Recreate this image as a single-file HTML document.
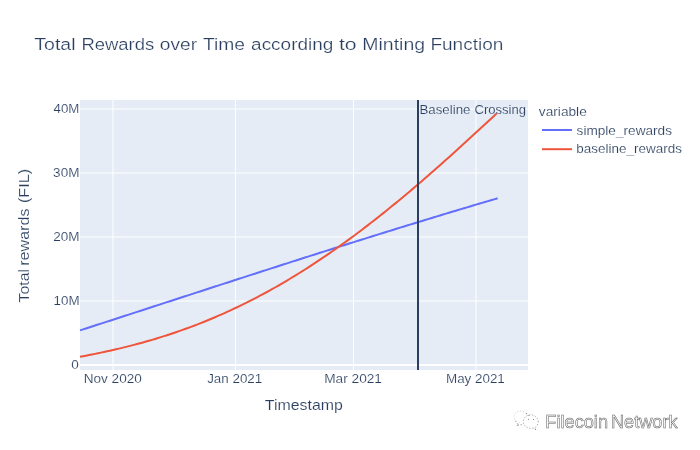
<!DOCTYPE html>
<html><head><meta charset="utf-8">
<style>
html,body{margin:0;padding:0;background:#fff;width:700px;height:450px;overflow:hidden}
svg{display:block;will-change:transform;font-family:"Liberation Sans",sans-serif}
text{fill:#2a3f5f;stroke:#fff;stroke-width:0.15px}
#ann1,#ann2{stroke:#e5ecf6}

#t1,#t2,#t3,#t4,#t5,#t6,#t7,#t8{stroke:#fff;stroke-width:0.22px}
</style></head><body>
<svg width="700" height="450" viewBox="0 0 700 450">
<rect x="0" y="0" width="700" height="450" fill="#fff"/>
<rect x="80" y="100" width="448" height="270" fill="#e5ecf6"/>
<g stroke="#fff" stroke-width="1">
<line x1="113" y1="100" x2="113" y2="370"/>
<line x1="235.45" y1="100" x2="235.45" y2="370"/>
<line x1="353.5" y1="100" x2="353.5" y2="370"/>
<line x1="476" y1="100" x2="476" y2="370"/>
<line x1="80" y1="109" x2="528" y2="109"/>
<line x1="80" y1="173" x2="528" y2="173"/>
<line x1="80" y1="237" x2="528" y2="237"/>
<line x1="80" y1="301" x2="528" y2="301"/>
</g>
<line x1="80" y1="365" x2="528" y2="365" stroke="#fff" stroke-width="2"/>
<path d="M80.0,330.39 L83.0,329.42 L86.0,328.45 L89.0,327.48 L92.0,326.51 L95.0,325.54 L98.0,324.57 L101.0,323.60 L104.0,322.62 L107.0,321.65 L110.0,320.68 L113.0,319.71 L116.0,318.73 L119.0,317.76 L122.0,316.79 L125.0,315.81 L128.0,314.84 L131.0,313.86 L134.0,312.89 L137.0,311.92 L140.0,310.94 L143.0,309.97 L146.0,308.99 L149.0,308.02 L152.0,307.04 L155.0,306.07 L158.0,305.09 L161.0,304.12 L164.0,303.14 L167.0,302.16 L170.0,301.19 L173.0,300.21 L176.0,299.24 L179.0,298.26 L182.0,297.29 L185.0,296.31 L188.0,295.34 L191.0,294.36 L194.0,293.39 L197.0,292.41 L200.0,291.44 L203.0,290.47 L206.0,289.49 L209.0,288.52 L212.0,287.55 L215.0,286.57 L218.0,285.60 L221.0,284.63 L224.0,283.65 L227.0,282.68 L230.0,281.71 L233.0,280.74 L236.0,279.77 L239.0,278.80 L242.0,277.83 L245.0,276.86 L248.0,275.89 L251.0,274.92 L254.0,273.95 L257.0,272.98 L260.0,272.01 L263.0,271.05 L266.0,270.08 L269.0,269.12 L272.0,268.15 L275.0,267.18 L278.0,266.22 L281.0,265.26 L284.0,264.29 L287.0,263.33 L290.0,262.37 L293.0,261.41 L296.0,260.45 L299.0,259.49 L302.0,258.53 L305.0,257.57 L308.0,256.61 L311.0,255.66 L314.0,254.70 L317.0,253.75 L320.0,252.79 L323.0,251.84 L326.0,250.88 L329.0,249.93 L332.0,248.98 L335.0,248.03 L338.0,247.08 L341.0,246.13 L344.0,245.19 L347.0,244.24 L350.0,243.29 L353.0,242.35 L356.0,241.41 L359.0,240.46 L362.0,239.52 L365.0,238.58 L368.0,237.64 L371.0,236.70 L374.0,235.77 L377.0,234.83 L380.0,233.89 L383.0,232.96 L386.0,232.03 L389.0,231.10 L392.0,230.17 L395.0,229.24 L398.0,228.31 L401.0,227.38 L404.0,226.46 L407.0,225.53 L410.0,224.61 L413.0,223.69 L416.0,222.77 L419.0,221.85 L422.0,220.93 L425.0,220.01 L428.0,219.10 L431.0,218.19 L434.0,217.27 L437.0,216.36 L440.0,215.45 L443.0,214.55 L446.0,213.64 L449.0,212.73 L452.0,211.83 L455.0,210.93 L458.0,210.03 L461.0,209.13 L464.0,208.23 L467.0,207.34 L470.0,206.44 L473.0,205.55 L476.0,204.66 L479.0,203.77 L482.0,202.88 L485.0,202.00 L488.0,201.11 L491.0,200.23 L494.0,199.35 L497.0,198.47 L497.6,198.29" fill="none" stroke="#636efa" stroke-width="2" stroke-linejoin="round"/>
<path d="M80.0,356.79 L83.0,356.22 L86.0,355.65 L89.0,355.07 L92.0,354.48 L95.0,353.88 L98.0,353.26 L101.0,352.63 L104.0,351.99 L107.0,351.34 L110.0,350.67 L113.0,350.00 L116.0,349.30 L119.0,348.60 L122.0,347.88 L125.0,347.14 L128.0,346.39 L131.0,345.63 L134.0,344.85 L137.0,344.05 L140.0,343.24 L143.0,342.42 L146.0,341.57 L149.0,340.72 L152.0,339.84 L155.0,338.95 L158.0,338.04 L161.0,337.11 L164.0,336.16 L167.0,335.20 L170.0,334.22 L173.0,333.22 L176.0,332.20 L179.0,331.17 L182.0,330.11 L185.0,329.04 L188.0,327.95 L191.0,326.84 L194.0,325.71 L197.0,324.56 L200.0,323.39 L203.0,322.20 L206.0,320.99 L209.0,319.76 L212.0,318.51 L215.0,317.24 L218.0,315.95 L221.0,314.64 L224.0,313.31 L227.0,311.96 L230.0,310.59 L233.0,309.19 L236.0,307.78 L239.0,306.35 L242.0,304.89 L245.0,303.42 L248.0,301.92 L251.0,300.40 L254.0,298.86 L257.0,297.30 L260.0,295.72 L263.0,294.12 L266.0,292.50 L269.0,290.85 L272.0,289.19 L275.0,287.50 L278.0,285.79 L281.0,284.06 L284.0,282.31 L287.0,280.54 L290.0,278.75 L293.0,276.94 L296.0,275.11 L299.0,273.25 L302.0,271.38 L305.0,269.48 L308.0,267.57 L311.0,265.63 L314.0,263.68 L317.0,261.70 L320.0,259.70 L323.0,257.69 L326.0,255.65 L329.0,253.59 L332.0,251.52 L335.0,249.42 L338.0,247.30 L341.0,245.17 L344.0,243.02 L347.0,240.84 L350.0,238.65 L353.0,236.44 L356.0,234.21 L359.0,231.96 L362.0,229.70 L365.0,227.42 L368.0,225.11 L371.0,222.80 L374.0,220.46 L377.0,218.11 L380.0,215.74 L383.0,213.35 L386.0,210.95 L389.0,208.53 L392.0,206.09 L395.0,203.64 L398.0,201.17 L401.0,198.69 L404.0,196.20 L407.0,193.68 L410.0,191.16 L413.0,188.62 L416.0,186.07 L419.0,183.50 L422.0,180.92 L425.0,178.32 L428.0,175.72 L431.0,173.10 L434.0,170.47 L437.0,167.83 L440.0,165.18 L443.0,162.51 L446.0,159.84 L449.0,157.15 L452.0,154.46 L455.0,151.75 L458.0,149.04 L461.0,146.32 L464.0,143.59 L467.0,140.85 L470.0,138.10 L473.0,135.35 L476.0,132.59 L479.0,129.82 L482.0,127.05 L485.0,124.27 L488.0,121.49 L491.0,118.70 L494.0,115.91 L497.0,113.12 L497.3,112.84" fill="none" stroke="#ef553b" stroke-width="2" stroke-linejoin="round"/>
<line x1="418" y1="100" x2="418" y2="370" stroke="#2a3f5f" stroke-width="2"/>
<text id="ann1" x="419.40" y="113.50" font-size="12.5" text-anchor="start" textLength="51.11" lengthAdjust="spacingAndGlyphs">Baseline</text><text id="ann2" x="474.45" y="113.50" font-size="12.5" text-anchor="start" textLength="51.6" lengthAdjust="spacingAndGlyphs">Crossing</text>
<text id="t1" x="34.35" y="49.70" font-size="17.2" text-anchor="start" textLength="41.14" lengthAdjust="spacingAndGlyphs">Total</text><text id="t2" x="81.44" y="49.70" font-size="17.2" text-anchor="start" textLength="72.82" lengthAdjust="spacingAndGlyphs">Rewards</text><text id="t3" x="159.89" y="49.70" font-size="17.2" text-anchor="start" textLength="37.19" lengthAdjust="spacingAndGlyphs">over</text><text id="t4" x="202.94" y="49.70" font-size="17.2" text-anchor="start" textLength="42.09" lengthAdjust="spacingAndGlyphs">Time</text><text id="t5" x="251.12" y="49.70" font-size="17.2" text-anchor="start" textLength="82.17" lengthAdjust="spacingAndGlyphs">according</text><text id="t6" x="338.94" y="49.70" font-size="17.2" text-anchor="start" textLength="17.67" lengthAdjust="spacingAndGlyphs">to</text><text id="t7" x="362.28" y="49.70" font-size="17.2" text-anchor="start" textLength="62.84" lengthAdjust="spacingAndGlyphs">Minting</text><text id="t8" x="430.42" y="49.70" font-size="17.2" text-anchor="start" textLength="72.98" lengthAdjust="spacingAndGlyphs">Function</text>
<text id="y40" x="79.40" y="113.00" font-size="12.5" text-anchor="end" textLength="25.81" lengthAdjust="spacingAndGlyphs">40M</text>
<text id="y30" x="79.41" y="177.00" font-size="12.5" text-anchor="end" textLength="26.28" lengthAdjust="spacingAndGlyphs">30M</text>
<text id="y20" x="79.45" y="241.00" font-size="12.5" text-anchor="end" textLength="26.25" lengthAdjust="spacingAndGlyphs">20M</text>
<text id="y10" x="79.54" y="305.00" font-size="12.5" text-anchor="end" textLength="26.0" lengthAdjust="spacingAndGlyphs">10M</text>
<text id="y0" x="78.88" y="369.00" font-size="12.5" text-anchor="end" textLength="7.51" lengthAdjust="spacingAndGlyphs">0</text>
<text id="xnov" x="112.73" y="383.00" font-size="12.5" text-anchor="middle" textLength="58.08" lengthAdjust="spacingAndGlyphs">Nov 2020</text>
<text id="xjan" x="234.70" y="383.00" font-size="12.5" text-anchor="middle" textLength="55.06" lengthAdjust="spacingAndGlyphs">Jan 2021</text>
<text id="xmar" x="353.09" y="383.00" font-size="12.5" text-anchor="middle" textLength="57.75" lengthAdjust="spacingAndGlyphs">Mar 2021</text>
<text id="xmay" x="475.39" y="383.00" font-size="12.5" text-anchor="middle" textLength="58.84" lengthAdjust="spacingAndGlyphs">May 2021</text>
<text id="xt" x="303.88" y="409.70" font-size="14.5" text-anchor="middle" textLength="78.11" lengthAdjust="spacingAndGlyphs">Timestamp</text>
<g transform="translate(28.8,0) rotate(-90)"><text id="yt1" x="-302.47" y="0.00" font-size="14.5" text-anchor="start" textLength="33.45" lengthAdjust="spacingAndGlyphs">Total</text><text id="yt2" x="-265.77" y="0.00" font-size="14.5" text-anchor="start" textLength="57.24" lengthAdjust="spacingAndGlyphs">rewards</text><text id="yt3" x="-203.13" y="0.00" font-size="14.5" text-anchor="start" textLength="34.39" lengthAdjust="spacingAndGlyphs">(FIL)</text></g>
<text id="lt" x="538.89" y="116.00" font-size="12.5" text-anchor="start" textLength="47.86" lengthAdjust="spacingAndGlyphs">variable</text>
<line x1="542" y1="130" x2="572" y2="130" stroke="#636efa" stroke-width="2"/>
<line x1="542" y1="149.2" x2="572" y2="149.2" stroke="#ef553b" stroke-width="2"/>
<text id="l1" x="576.57" y="135.00" font-size="12.5" text-anchor="start" textLength="95.45" lengthAdjust="spacingAndGlyphs">simple_rewards</text>
<text id="l2" x="576.35" y="153.30" font-size="12.5" text-anchor="start" textLength="105.57" lengthAdjust="spacingAndGlyphs">baseline_rewards</text>
<g fill="none" stroke-width="0.7" stroke-dasharray="1.3 1.6">
<path stroke="#c4c4c4" d="M519.5,422.5 C515.5,421.5 513.8,418.8 514,416.5 C514.3,413.2 517,411 520.5,411.2 C523.8,411.4 526.3,413 527,415"/>
<path stroke="#777" d="M515.2,420.8 L517.5,423.8 L517,425 L523.5,424.5"/>
<path stroke="#8a8a8a" d="M538.3,421.8 C538.3,418.5 535,414.8 530.7,414.8 C526.4,414.8 523.3,418.3 523.3,421.8 C523.3,425.3 526.4,428.3 530.7,428.3 C531.8,428.3 532.8,428.1 533.7,427.8 L535.6,429.2 L535.6,426.9 C537.2,425.6 538.3,423.8 538.3,421.8"/>
</g>
<g fill="#666"><circle cx="528.4" cy="419.2" r="0.55"/><circle cx="533.6" cy="419.5" r="0.55"/><circle cx="526.6" cy="413.6" r="0.5"/><circle cx="528.9" cy="415.6" r="0.5"/><circle cx="517.3" cy="425.3" r="0.5"/><circle cx="535.6" cy="429.3" r="0.5"/></g>
<g id="wmg">
<text id="wm1" x="545.31" y="427.90" font-size="18.3" text-anchor="start" textLength="62.73" lengthAdjust="spacingAndGlyphs" style="fill:#f6f6f6;stroke:#5a5a5a;stroke-width:0.5px">Filecoin</text><text id="wm2" x="610.90" y="427.90" font-size="18.3" text-anchor="start" textLength="66.71" lengthAdjust="spacingAndGlyphs" style="fill:#f6f6f6;stroke:#5a5a5a;stroke-width:0.5px">Network</text>
</g>
</svg>
</body></html>
